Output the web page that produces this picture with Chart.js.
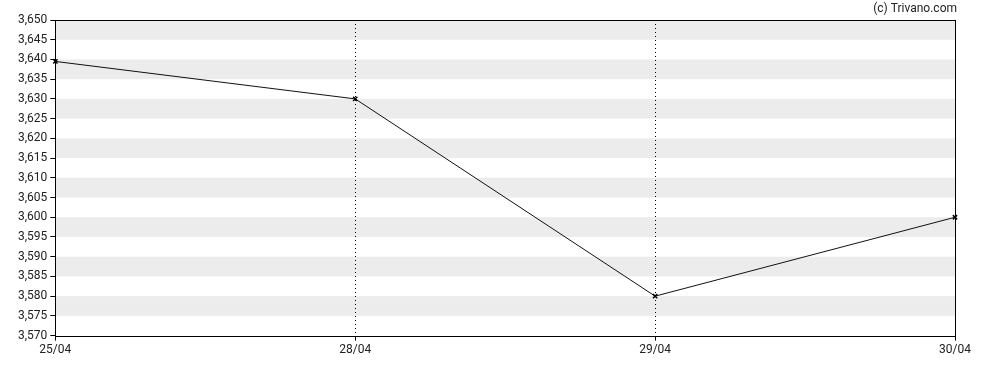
<!DOCTYPE html>
<html>
<head>
<meta charset="utf-8">
<script src="https://cdn.jsdelivr.net/npm/chart.js@4/dist/chart.umd.min.js"></script>
<style>
  html, body { margin: 0; padding: 0; background: #fff; }
  #wrap { width: 988px; height: 370px; }
</style>
</head>
<body>
<div id="wrap"><canvas id="chart" width="988" height="370"></canvas></div>
<script>
const dates = ["25/04", "28/04", "29/04", "30/04"];
const prices = [3.6395, 3.630, 3.580, 3.600];
const yMin = 3.570;
const yMax = 3.650;
const yStep = 0.005;
const credit = "(c) Trivano.com";

// grey stripes between every other pair of y ticks, starting at the top
const bands = {
  id: "bands",
  beforeDraw: (chart) => {
    const ctx = chart.ctx;
    const area = chart.chartArea;
    const y = chart.scales.y;
    ctx.save();
    ctx.fillStyle = "#ececec";
    for (let i = 0; i * yStep < yMax - yMin - 1e-9; i += 2) {
      const top = y.getPixelForValue(yMax - i * yStep);
      const bot = y.getPixelForValue(yMax - (i + 1) * yStep);
      ctx.fillRect(area.left, top, area.right - area.left, bot - top);
    }
    ctx.restore();
  },
  afterDraw: (chart) => {
    const ctx = chart.ctx;
    const area = chart.chartArea;
    ctx.save();
    ctx.strokeStyle = "#000";
    ctx.lineWidth = 1;
    ctx.strokeRect(Math.round(area.left) + 0.5, Math.round(area.top) + 0.5,
      Math.round(area.right - area.left), Math.round(area.bottom - area.top));
    ctx.fillStyle = "#222";
    ctx.font = "12px Roboto";
    ctx.textAlign = "right";
    ctx.textBaseline = "middle";
    ctx.fillText(credit, area.right + 2, 9);
    ctx.restore();
  },
};

const config = {
  type: "line",
  data: {
    labels: dates,
    datasets: [{
      data: prices,
      borderColor: "#111",
      borderWidth: 1,
      pointStyle: "crossRot",
      pointRadius: 3,
      pointBorderColor: "#000",
      pointBorderWidth: 1.5,
      tension: 0,
    }],
  },
  options: {
    responsive: false,
    animation: false,
    layout: {
      padding: { top: 20, right: 33, left: 15, bottom: 11 },
    },
    plugins: {
      legend: { display: false },
      tooltip: { enabled: false },
    },
    scales: {
      x: {
        offset: false,
        grid: {
          color: "#000",
          tickBorderDash: [],
          tickLength: 5,
          tickColor: "#000",
        },
        border: { display: false, dash: [1, 3] },
        ticks: {
          color: "#222",
          font: { family: "Roboto", size: 12 },
          maxRotation: 0,
          padding: 2,
        },
      },
      y: {
        min: yMin,
        max: yMax,
        grid: {
          drawOnChartArea: false,
          tickLength: 5,
          tickColor: "#000",
        },
        border: { display: false },
        ticks: {
          stepSize: yStep,
          color: "#222",
          font: { family: "Roboto", size: 12 },
          padding: 3,
          callback: (v) => v.toFixed(3).replace(".", ","),
        },
      },
    },
  },
  plugins: [bands],
};

new Chart(document.getElementById("chart"), config);
</script>
</body>
</html>
